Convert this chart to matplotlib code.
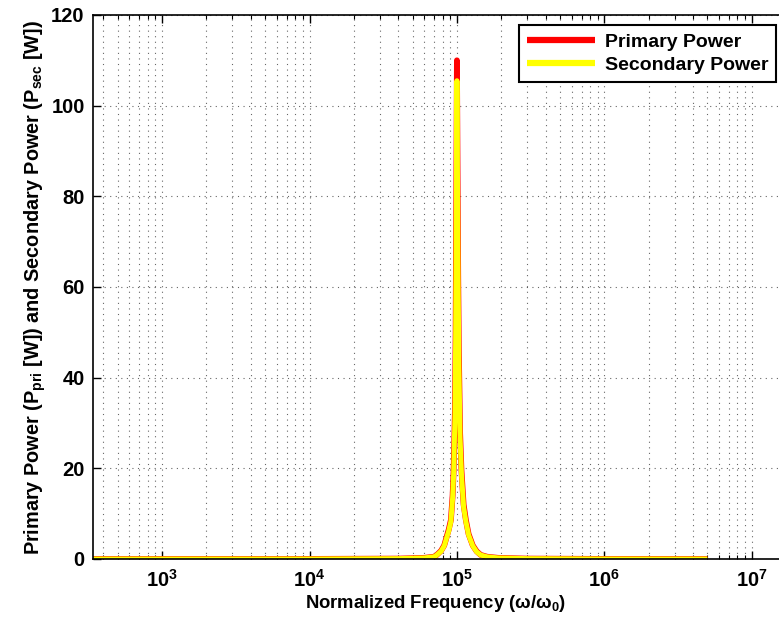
import numpy as np
import matplotlib
matplotlib.use("Agg")
import matplotlib.pyplot as plt
from matplotlib.ticker import LogLocator, NullFormatter

# values (normalized frequency, watts)
freq = [1e2, 1e4, 4e4, 6e4, 7e4, 7.3e4, 7.8e4, 8.2e4, 8.8e4, 9.1e4, 9.35e4, 9.5e4, 9.7e4,
        9.8e4, 9.9e4, 1.0e5, 1.01e5, 1.02e5, 1.03e5, 1.05e5, 1.073e5, 1.11e5,
        1.15e5, 1.2e5, 1.28e5, 1.36e5, 1.45e5, 1.6e5, 1.9e5, 3e5, 1e6, 5e6]
p_pri = [0.0, 0.01, 0.08, 0.25, 0.5, 0.9, 1.8, 3.0, 6.5, 8.6, 14.0, 19.6, 33.0,
         50.0, 80.0, 110.0, 85.0, 62.0, 46.0, 28.0, 19.6, 12.0,
         8.6, 5.5, 3.0, 1.7, 0.9, 0.5, 0.25, 0.08, 0.01, 0.0]
p_sec = [0.0, 0.01, 0.08, 0.24, 0.48, 0.87, 1.7, 2.9, 6.2, 8.3, 13.5, 18.8, 31.6,
         48.0, 76.8, 105.5, 81.6, 59.5, 44.2, 26.9, 18.8, 11.5,
         8.3, 5.3, 2.9, 1.6, 0.87, 0.48, 0.24, 0.08, 0.01, 0.0]

plt.rcParams['font.family'] = ['Liberation Sans', 'DejaVu Sans']
plt.rcParams['font.weight'] = 'bold'
plt.rcParams['mathtext.fontset'] = 'custom'
plt.rcParams['mathtext.rm'] = 'Liberation Sans:bold'
plt.rcParams['mathtext.it'] = 'Liberation Sans:bold'
plt.rcParams['mathtext.bf'] = 'Liberation Sans:bold'
plt.rcParams['mathtext.default'] = 'rm'

fig = plt.figure(figsize=(7.79, 6.30), dpi=100)
ax = fig.add_axes([0.1194, 0.1127, 0.8806, 0.8635])

ax.plot(freq, p_pri, color='red', lw=4.2, label='Primary Power', solid_capstyle='butt')
ax.plot(freq, p_sec, color='yellow', lw=3.6, label='Secondary Power', solid_capstyle='butt')

ax.set_xscale('log')
ax.set_xlim(340, 1.53e7)
ax.set_ylim(0, 120)
ax.set_yticks(np.arange(0, 121, 20))
ax.xaxis.set_major_locator(LogLocator(base=10, numticks=20))
ax.xaxis.set_minor_locator(LogLocator(base=10, subs=np.arange(2, 10), numticks=20))
ax.xaxis.set_minor_formatter(NullFormatter())

ax.tick_params(which='both', direction='in', top=True, right=False, labelsize=14.5)
ax.tick_params(axis='x', pad=7)
ax.tick_params(axis='y', pad=6)
ax.tick_params(which='major', length=6, width=1)
ax.tick_params(which='minor', length=3, width=0.8)
ax.spines['right'].set_visible(False)
for s in ['left', 'top', 'bottom']:
    ax.spines[s].set_linewidth(1.2)

ax.grid(True, which='major', axis='both', linestyle=(0, (1, 4)), color='black', lw=0.8, alpha=0.6)
ax.grid(True, which='minor', axis='x', linestyle=(0, (1, 4)), color='black', lw=0.8, alpha=0.6)

ax.set_xlabel(r'Normalized Frequency ($\omega$/$\omega_0$)', fontsize=13.3, fontweight='bold', labelpad=2)
ax.set_ylabel(r'Primary Power (P$_{pri}$ [W]) and Secondary Power (P$_{sec}$ [W])',
              fontsize=14.3, fontweight='bold', labelpad=2)

leg = ax.legend(loc='upper right', bbox_to_anchor=(0.9955, 0.981), fontsize=14, frameon=True,
                fancybox=False, edgecolor='black', framealpha=1, handlelength=3.5,
                borderpad=0.4, labelspacing=0.3, handletextpad=0.5, borderaxespad=0)
leg.get_frame().set_linewidth(1.5)
for line in leg.get_lines():
    line.set_linewidth(4.5)

fig.savefig('out.png', dpi=100)
